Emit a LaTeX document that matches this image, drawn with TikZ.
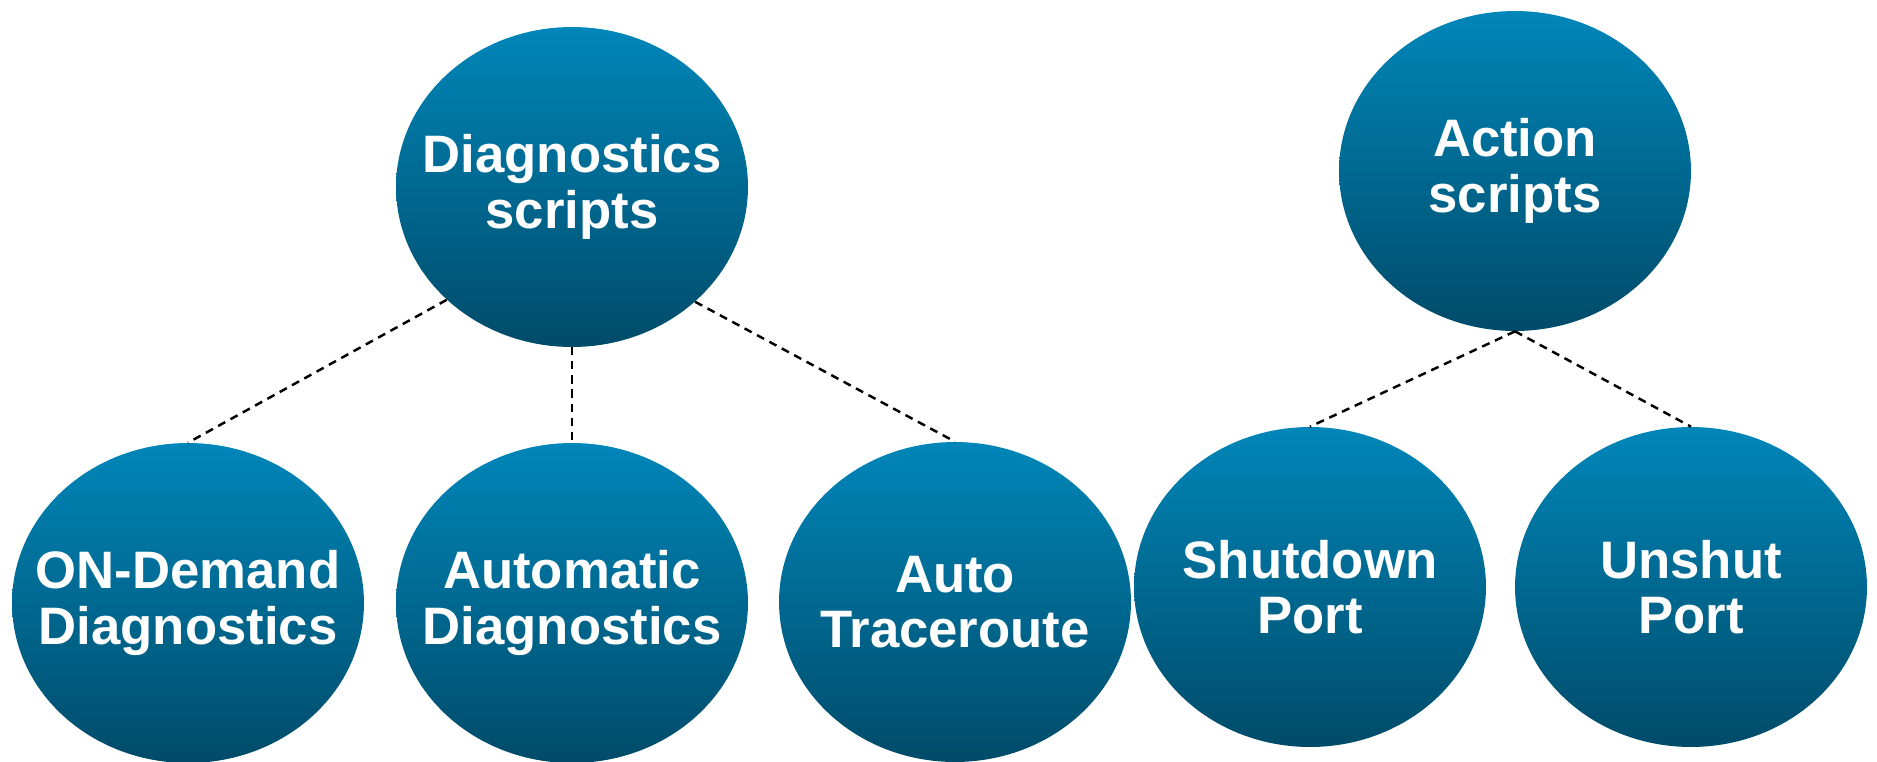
\documentclass[tikz,border=0pt]{standalone}
\usepackage{fontspec}
\setmainfont{Liberation Sans}
\usepackage{tikz}
\usetikzlibrary{shapes.geometric}
\definecolor{bubbletop}{HTML}{0086B9}
\definecolor{bubblebot}{HTML}{004B69}

\begin{document}
\begin{tikzpicture}[x=0.02cm,y=-0.02cm]
			\tikzstyle{bubble} = [ellipse,minimum width=7.04cm,minimum height=6.4cm,inner sep=0pt,top color=bubbletop,bottom color=bubblebot]
			\tikzstyle{bubbletext} = [text=white,align=center,inner sep=0pt,font=\fontsize{30}{31.5}\selectfont\bfseries]
			\tikzstyle{link} = [draw=black,line width=1.4pt,dash pattern=on 4.6pt off 3.4pt]
			
			\useasboundingbox (0,0) rectangle (1877,761);
			
			\node[bubble,label={[bubbletext]center:Diagnostics\\scripts}] (diag) at (572,187) {};
			\node[bubble,label={[bubbletext]center:Action\\scripts}] (action) at (1515,171) {};
			
			\node[bubble,label={[bubbletext]center:ON-Demand\\Diagnostics}] (ondemand) at (188,603) {};
			\node[bubble,label={[bubbletext]center:Automatic\\Diagnostics}] (automatic) at (572,603) {};
			\node[bubble,label={[bubbletext]center:Auto\\Traceroute}] (traceroute) at (955,602) {};
			
			\node[bubble,label={[bubbletext]center:Shutdown\\Port}] (shutdown) at (1310,587) {};
			\node[bubble,label={[bubbletext]center:Unshut\\Port}] (unshut) at (1691,587) {};
			
			\path[link] (diag.222) edge (ondemand.north);
			\path[link] (diag.south) edge (automatic.north);
			\path[link] (diag.317) edge (traceroute.north);
			
			\path[link] (action.south) edge (shutdown.north);
			\path[link] (action.south) edge (unshut.north);
		\end{tikzpicture}
\end{document}
